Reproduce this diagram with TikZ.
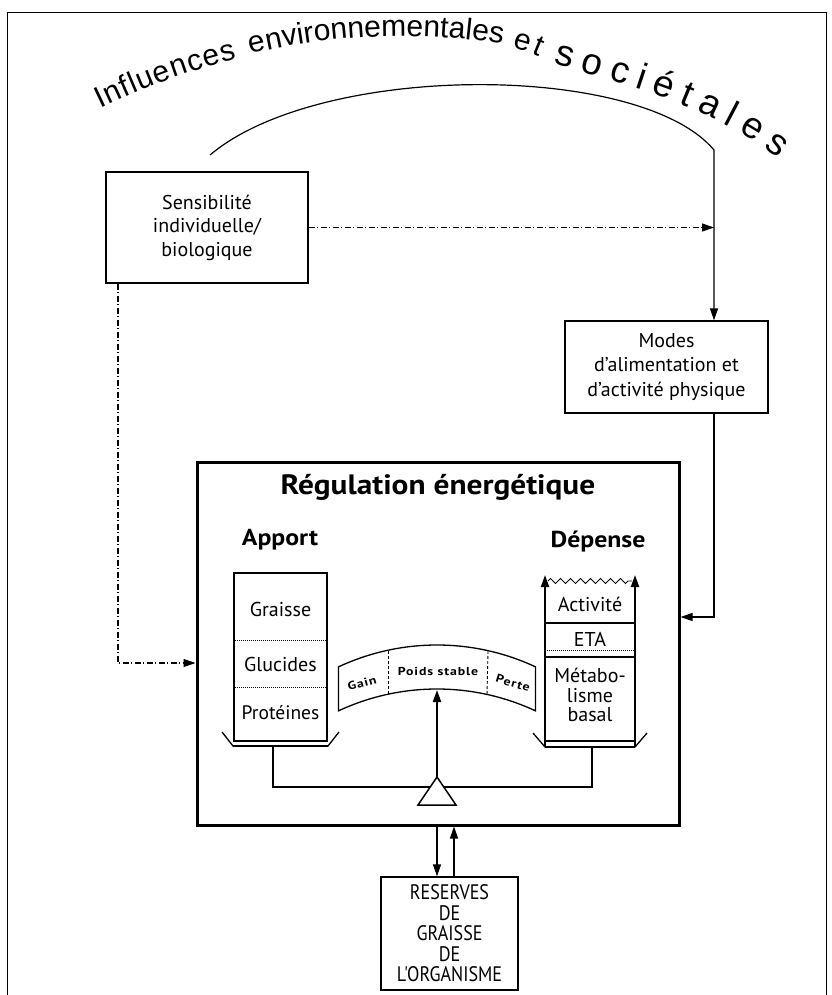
\documentclass[tikz,border=0pt]{standalone}
\usepackage{fontspec}
\setmainfont{PT Sans}
\newfontfamily\curvefont{Liberation Sans}
\newfontfamily\headfont{PT Sans Bold}[FakeStretch=1.12]
\newfontfamily\condfont{PT Sans}[FakeStretch=0.86]
\newfontfamily\tinyfont{PT Sans Bold}[FakeStretch=1.2, LetterSpace=8]
\usetikzlibrary{arrows.meta,decorations.text,decorations.pathmorphing}
\begin{document}
\begin{tikzpicture}[x=1pt,y=-1pt,
  box/.style={draw, line width=1.3pt, align=center, inner sep=0pt},
  arr/.style={-{Triangle[length=12pt,width=8pt]}},
  dashdot/.style={dash pattern=on 6pt off 2.5pt on 1pt off 2.5pt, line width=1.1pt},
  lbl/.style={font=\fontsize{20}{23.5}\selectfont, align=center, inner sep=0pt},
  head/.style={font=\headfont\fontsize{23}{28}\selectfont, inner sep=0pt},
  tiny/.style={font=\tinyfont\fontsize{11.5}{12}\selectfont, inner sep=0pt},
  conn/.style={line width=1.2pt},
  curveword/.style={decorate, decoration={text along path, text={|\curvefont\fontsize{30}{30}\selectfont|#1}, text align={fit to path}}},
  bigcurveword/.style={decorate, decoration={text along path, text={|\curvefont\fontsize{37}{37}\selectfont|#1}, text align={fit to path}}},
]
\useasboundingbox (0,0) rectangle (831,995);
% frame
\draw[line width=1pt] (7,995) -- (7,13) -- (826,13) -- (826,995);

% curved title, word by word along one arch
\path[curveword=Influences] (100,109) .. controls (146,87) and (190,70) .. (237,59);
\path[curveword=environnementales] (251,54) .. controls (332,34) and (422,31) .. (501,44);
\path[curveword=et] (512,48) .. controls (521,50) and (530,53) .. (539,57);
\path[bigcurveword=sociétales] (553,64) .. controls (622,82) and (712,107) .. (778,158);

% boxes
\node[box, minimum width=202, minimum height=111, lbl] (sens) at (207,227.5)
  {Sensibilité\\individuelle/\\biologique};
\node[box, minimum width=203, minimum height=92, lbl, font=\fontsize{20}{24.5}\selectfont] (modes) at (666.5,367)
  {Modes\\d'alimentation et\\d'activité physique};
\node[box, minimum width=137, minimum height=113, font=\condfont\fontsize{21}{20.5}\selectfont, align=center] (res) at (449.5,933.5)
  {RESERVES\\DE\\GRAISSE\\DE\\L'ORGANISME};
\node[draw, line width=3pt, minimum width=482, minimum height=363, inner sep=0pt] (reg) at (438,643.5) {};
\node[head, font=\headfont\fontsize{28}{30}\selectfont] (title) at (438,487) {Régulation énergétique};

% top arc and arrows
\coordinate (arcL) at (210,155);
\coordinate (arcR) at (714,150);
\draw[conn, arr] (arcL) .. controls (320,62) and (640,62) .. (arcR) -- (arcR |- modes.north);
\draw[dashdot, arr] (sens.east) -- (sens.east -| arcR);
\coordinate (dl) at (118,663);
\draw[dashdot, arr] (sens.south -| dl) -- (dl) -- (dl -| reg.west);
\coordinate (mr) at (714,617);
\draw[conn, arr] (modes.south -| mr) -- (mr) -- (mr -| reg.east);

% reserves arrows
\coordinate (fd) at (437,850);
\coordinate (fu) at (454,850);
\draw[conn, arr] (reg.south -| fd) -- (res.north -| fd);
\draw[conn, arr] (res.north -| fu) -- (reg.south -| fu);

% Apport
\node[head] (apport) at (280,540) {Apport};
\node[draw, line width=1.3pt, minimum width=93, minimum height=168, inner sep=0pt] (apcol) at (280.5,657) {};
\draw[densely dotted, line width=1pt] (apcol.west |- 0,640) -- (apcol.east |- 0,640);
\draw[densely dotted, line width=1pt] (apcol.west |- 0,687) -- (apcol.east |- 0,687);
\node[lbl] (graisse) at (280.5,609) {Graisse};
\node[lbl] (glucides) at (280.5,664) {Glucides};
\node[lbl, font=\fontsize{19.5}{23}\selectfont] (proteines) at (280.5,713) {Protéines};
\draw[line width=1.3pt] (222,732) -- (233,746) -- (328,746) -- (339,732);
\draw[line width=2.5pt] (233,746) -- (328,746);

% Depense
\node[head] (depense) at (598,542) {Dépense};
\draw[line width=2pt, arr] (545,747) -- (545,575);
\draw[line width=2pt, arr] (635,747) -- (635,575);
\draw[line width=0.9pt, decorate, decoration={zigzag, segment length=10pt, amplitude=2.5pt}] (548,581) -- (632,581);
\draw[line width=1.3pt] (545,623) -- (635,623);
\draw[densely dotted, line width=1pt] (545,650) -- (635,650);
\draw[line width=1.3pt] (545,657) -- (635,657);
\draw[line width=1.3pt] (545,741) -- (635,741);
\node[lbl] (activite) at (590,604) {Activité};
\node[lbl] (eta) at (590,639) {ETA};
\node[lbl, font=\fontsize{20}{19.5}\selectfont] (metab) at (590,695) {Métabo-\\lisme\\basal};
\draw[line width=1.3pt] (533,733) -- (545,747) -- (635,747) -- (647,733);
\draw[line width=2.5pt] (545,747) -- (635,747);

% beam and fulcrum
\draw[line width=1.3pt] (273,746) -- (273,787) -- (592,787) -- (592,747);
\draw[line width=1.5pt, fill=white] (437,777) -- (456,805) -- (418,805) -- cycle;

% curved band
\coordinate (bc) at (437,878);
\coordinate (bc2) at (437,922);
\draw[line width=1.3pt, fill=white] ([shift={(-115:233)}]bc) arc[start angle=-115, end angle=-65, radius=233]
  -- ([shift={(-65:233)}]bc2) arc[start angle=-65, end angle=-115, radius=233] -- cycle;
\draw[densely dashed, line width=0.9pt] (388,651) -- (388,695);
\draw[densely dashed, line width=0.9pt] (488,651) -- (487,695);
\node[tiny, rotate=15] (gain) at (362,683) {Gain};
\node[tiny] (stable) at (438,671) {Poids stable};
\node[tiny, rotate=-17] (perte) at (513,683) {Perte};
\draw[line width=2pt, arr] (437,777) -- (437,690);
\end{tikzpicture}
\end{document}
